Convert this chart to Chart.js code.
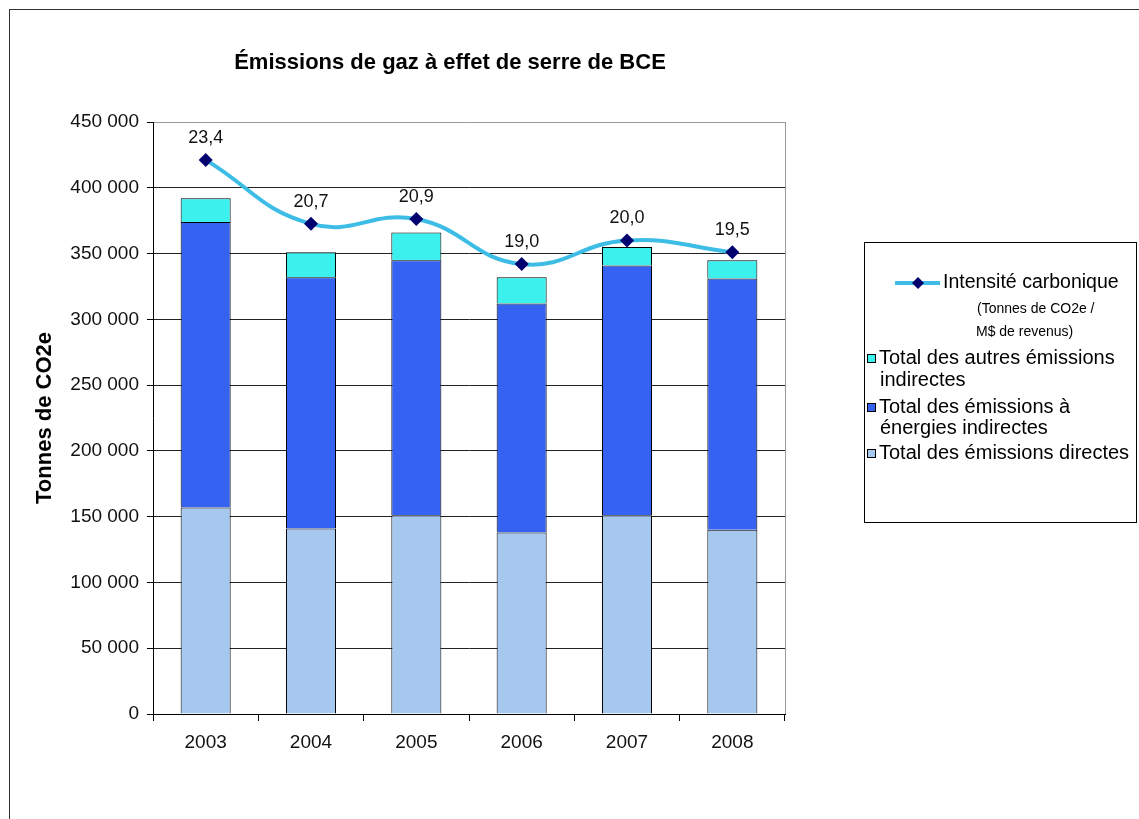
<!DOCTYPE html>
<html>
<head>
<meta charset="utf-8">
<script src="https://cdn.jsdelivr.net/npm/chart.js@4.4.1/dist/chart.umd.min.js"></script>
<style>
html,body{margin:0;padding:0;background:#fff;}
#wrap{position:relative;width:1139px;height:819px;}
</style>
</head>
<body>
<div id="wrap"><canvas id="c" width="1139" height="819"></canvas></div>
<script>
const years = ['2003','2004','2005','2006','2007','2008'];
const directes = [157000, 141000, 151000, 138000, 151000, 140000];
const energiesIndirectes = [217000, 191000, 194000, 174000, 190000, 191000];
const autresIndirectes = [18000, 19000, 21000, 20000, 14000, 14000];
const intensite = [23.4, 20.7, 20.9, 19.0, 20.0, 19.5];
const yTicks = [0, 50000, 100000, 150000, 200000, 250000, 300000, 350000, 400000, 450000];

const chartTitle = 'Émissions de gaz à effet de serre de BCE';
const yTitle = 'Tonnes de CO2e';
const lineLabel = 'Intensité carbonique';
const lineSub = ['(Tonnes de CO2e /', 'M$ de revenus)'];
const barLegend = [
  ['Total des autres émissions', 'indirectes'],
  ['Total des émissions à', 'énergies indirectes'],
  ['Total des émissions directes']
];

const FONT = '"Liberation Sans", Arial, sans-serif';
const C_DIR = '#A6C8EE';
const C_ENE = '#3562F0';
const C_AUT = '#3CF0EE';
const C_LINE = '#3DBDE6';
const C_MARK = '#00006E';

function fmt(v){ return String(v).replace(/\B(?=(\d{3})+(?!\d))/g, ' '); }

const decorPlugin = {
  id: 'decor',
  beforeDraw(chart){
    const ctx = chart.ctx;
    ctx.save();
    ctx.fillStyle = '#fff';
    ctx.fillRect(0,0,chart.width,chart.height);
    ctx.strokeStyle = '#333';
    ctx.lineWidth = 1;
    ctx.strokeRect(9.5, 9.5, 1200, 900);
    ctx.restore();
  },
  afterDraw(chart){
    const ctx = chart.ctx;
    const a = chart.chartArea;
    ctx.save();
    // plot right border
    ctx.strokeStyle = '#999';
    ctx.lineWidth = 1;
    ctx.beginPath();
    ctx.moveTo(Math.round(a.right)+0.5, a.top);
    ctx.lineTo(Math.round(a.right)+0.5, a.bottom);
    ctx.stroke();
    // title
    ctx.fillStyle = '#000';
    ctx.font = 'bold 22px ' + FONT;
    ctx.textAlign = 'center';
    ctx.textBaseline = 'alphabetic';
    ctx.fillText(chartTitle, 450, 69);
    // legend box
    ctx.strokeStyle = '#000';
    ctx.lineWidth = 1;
    ctx.strokeRect(864.5, 242.5, 272, 280);
    // line entry
    ctx.strokeStyle = C_LINE;
    ctx.lineWidth = 4;
    ctx.beginPath();
    ctx.moveTo(895, 283); ctx.lineTo(940, 283);
    ctx.stroke();
    ctx.fillStyle = C_MARK;
    ctx.beginPath();
    ctx.moveTo(918, 277); ctx.lineTo(924, 283); ctx.lineTo(918, 289); ctx.lineTo(912, 283);
    ctx.closePath(); ctx.fill();
    ctx.fillStyle = '#000';
    ctx.textAlign = 'left';
    ctx.textBaseline = 'middle';
    ctx.font = '19.5px ' + FONT;
    ctx.fillText(lineLabel, 943, 283);
    ctx.font = '14px ' + FONT;
    ctx.fillText(lineSub[0], 977, 309);
    ctx.fillText(lineSub[1], 976, 332);
    // bar entries
    const cols = [C_AUT, C_ENE, C_DIR];
    const ys = [[358, 380], [407, 428], [453]];
    ctx.font = '20px ' + FONT;
    barLegend.forEach((lines, i) => {
      const y0 = ys[i][0];
      ctx.fillStyle = cols[i];
      ctx.fillRect(867, y0 - 4, 9, 9);
      ctx.strokeStyle = '#000';
      ctx.lineWidth = 1;
      ctx.strokeRect(867.5, y0 - 3.5, 8, 8);
      ctx.fillStyle = '#000';
      lines.forEach((t, j) => {
        ctx.fillText(t, j === 0 ? 879 : 880, ys[i][j]);
      });
    });
    // data labels for the line
    const meta = chart.getDatasetMeta(3);
    ctx.font = '18px ' + FONT;
    ctx.textAlign = 'center';
    ctx.textBaseline = 'middle';
    ctx.fillStyle = '#111';
    meta.data.forEach((pt, i) => {
      ctx.fillText(intensite[i].toFixed(1).replace('.', ','), pt.x, pt.y - 22);
    });
    ctx.restore();
  }
};

new Chart(document.getElementById('c'), {
  type: 'bar',
  data: {
    labels: years,
    datasets: [
      { label: 'Total des émissions directes', data: directes, backgroundColor: C_DIR, borderColor: '#000', borderWidth: 1, yAxisID: 'y', order: 2, barPercentage: 0.475, categoryPercentage: 1 },
      { label: 'Total des émissions à énergies indirectes', data: energiesIndirectes, backgroundColor: C_ENE, borderColor: '#000', borderWidth: 1, yAxisID: 'y', order: 2, barPercentage: 0.475, categoryPercentage: 1 },
      { label: 'Total des autres émissions indirectes', data: autresIndirectes, backgroundColor: C_AUT, borderColor: '#000', borderWidth: 1, yAxisID: 'y', order: 2, barPercentage: 0.475, categoryPercentage: 1 },
      { type: 'line', label: 'Intensité carbonique (Tonnes de CO2e / M$ de revenus)', data: intensite, yAxisID: 'y2', order: 0,
        borderColor: C_LINE, borderWidth: 4, tension: 0.45, fill: false,
        pointStyle: 'rectRot', pointRadius: 7, pointHoverRadius: 7, pointBackgroundColor: C_MARK, pointBorderColor: C_MARK, pointBorderWidth: 0 }
    ]
  },
  options: {
    responsive: false,
    devicePixelRatio: 1,
    animation: false,
    layout: { padding: { left: 0, top: 122, right: 354, bottom: 65 } },
    plugins: { legend: { display: false }, title: { display: false }, tooltip: { enabled: false } },
    scales: {
      x: {
        stacked: true,
        grid: { display: true, drawOnChartArea: false, drawTicks: true, tickLength: 7, color: '#000', offset: true },
        border: { display: true, color: '#000', width: 1 },
        ticks: { color: '#111', font: { family: FONT, size: 19 }, padding: 10 },
        afterFit(s){ s.height = 40; }
      },
      y: {
        stacked: true,
        min: 0, max: 450000,
        afterBuildTicks(s){ s.ticks = yTicks.map(v => ({ value: v })); },
        grid: { color: (c) => (c.tick && c.tick.value === 450000 ? '#999' : '#222'), tickColor: '#000', tickLength: 6, lineWidth: 1 },
        border: { display: true, color: '#000', width: 1 },
        ticks: { color: '#111', font: { family: FONT, size: 19 }, padding: 8, callback: (v) => fmt(v) },
        title: { display: true, text: yTitle, color: '#000', font: { family: FONT, size: 22, weight: 'bold' }, padding: { top: 32, bottom: 0 } },
        afterFit(s){ s.width = 153; }
      },
      y2: { display: false, min: 0, max: 25, stacked: false }
    }
  },
  plugins: [decorPlugin]
});
</script>
</body>
</html>
